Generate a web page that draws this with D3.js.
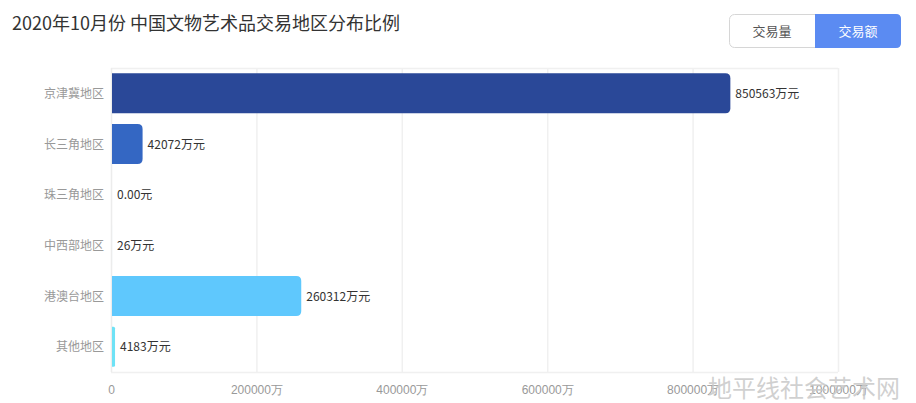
<!DOCTYPE html>
<html><head><meta charset="utf-8">
<script src="https://cdn.jsdelivr.net/npm/d3@7/dist/d3.min.js"></script>
<style>
html,body{margin:0;padding:0;background:#fff;}
svg{display:block;font-family:"Microsoft YaHei","Noto Sans CJK SC","Noto Sans",sans-serif;}
</style></head>
<body><svg id="c" width="916" height="403"></svg>
<script>
const title = "2020年10月份 中国文物艺术品交易地区分布比例";
const categories = ["京津冀地区","长三角地区","珠三角地区","中西部地区","港澳台地区","其他地区"];
const values = [850563, 42072, 0, 26, 260312, 4183];
const valueLabels = ["850563万元","42072万元","0.00元","26万元","260312万元","4183万元"];
const barColors = ["#2a4898","#3467c3","#3f8ddc","#4aa9ec","#5fc8fd","#6ee2f6"];
const xTicks = [0, 200000, 400000, 600000, 800000, 1000000];
const tickLabels = ["0","200000万","400000万","600000万","800000万","1000000万"];
const buttons = ["交易量","交易额"];
const watermark = "地平线社会艺术网";

const svg = d3.select("#c");
const L = 111, R = 838, T = 68, B = 372;
const x = d3.scaleLinear().domain([0, 1000000]).range([L, R]);
const y = d3.scaleBand().domain(categories).range([T, B]).paddingInner(0.21).paddingOuter(0.105);

// title
svg.append("text").attr("x", 12).attr("y", 30).attr("font-size", 18).attr("fill", "#333").text(title);

// toggle
const bx = 729, by = 14, bw = 172, bh = 34, half = 86;
svg.append("rect").attr("x", bx+0.5).attr("y", by+0.5).attr("width", bw-1).attr("height", bh-1)
  .attr("rx", 5).attr("fill", "#fff").attr("stroke", "#d6d6d6");
svg.append("path").attr("d", d3.path ? (()=>{const p=d3.path();const x0=bx+half,x1=bx+bw,y0=by,y1=by+bh,r=5;
  p.moveTo(x0,y0);p.lineTo(x1-r,y0);p.quadraticCurveTo(x1,y0,x1,y0+r);p.lineTo(x1,y1-r);p.quadraticCurveTo(x1,y1,x1-r,y1);p.lineTo(x0,y1);p.closePath();return p.toString();})() : "")
  .attr("fill", "#5b8bf2");
svg.append("text").attr("x", bx+half/2).attr("y", by+bh/2+4.5).attr("text-anchor","middle").attr("font-size",13).attr("fill","#555").text(buttons[0]);
svg.append("text").attr("x", bx+half+half/2).attr("y", by+bh/2+4.5).attr("text-anchor","middle").attr("font-size",13).attr("fill","#fff").text(buttons[1]);

// grid
const g = svg.append("g");
g.selectAll("line.v").data(xTicks.slice(1)).join("line")
  .attr("x1", d=>x(d)+0.5).attr("x2", d=>x(d)+0.5).attr("y1", T).attr("y2", B)
  .attr("stroke", "#f0f0f0").attr("stroke-width", 1.5);
g.append("line").attr("x1", L).attr("x2", R).attr("y1", T+0.5).attr("y2", T+0.5).attr("stroke", "#f0f0f0").attr("stroke-width",1.5);
g.append("line").attr("x1", L).attr("x2", R).attr("y1", B+0.5).attr("y2", B+0.5).attr("stroke", "#f0f0f0").attr("stroke-width",1.5);
g.append("line").attr("x1", L+0.5).attr("x2", L+0.5).attr("y1", T).attr("y2", B).attr("stroke", "#ececec").attr("stroke-width",1.5);

// bars
function barPath(x0, x1, y0, h, r) {
  const w = x1 - x0;
  if (w <= 0) return "";
  r = Math.min(r, w/2, h/2);
  const p = d3.path();
  p.moveTo(x0, y0);
  p.lineTo(x1 - r, y0);
  p.quadraticCurveTo(x1, y0, x1, y0 + r);
  p.lineTo(x1, y0 + h - r);
  p.quadraticCurveTo(x1, y0 + h, x1 - r, y0 + h);
  p.lineTo(x0, y0 + h);
  p.closePath();
  return p.toString();
}
const data = categories.map((c,i)=>({c, v: values[i], lab: valueLabels[i], col: barColors[i]}));
svg.append("g").selectAll("path").data(data).join("path")
  .attr("d", d => barPath(x(0)+1, x(d.v)+1, y(d.c), y.bandwidth(), 5))
  .attr("fill", d => d.col);
svg.append("g").selectAll("text").data(data).join("text")
  .attr("x", d => x(d.v) + 6).attr("y", d => y(d.c) + y.bandwidth()/2 + 4.5)
  .attr("font-size", 12).attr("fill", "#333").text(d => d.lab);

// y axis labels
svg.append("g").selectAll("text").data(categories).join("text")
  .attr("x", 104).attr("y", d => y(d) + y.bandwidth()/2 + 4.5)
  .attr("text-anchor", "end").attr("font-size", 12).attr("fill", "#999").text(d => d);

// x axis
const xa = svg.append("g").attr("transform", `translate(0,${B})`)
  .call(d3.axisBottom(x).tickValues(xTicks).tickSize(0).tickPadding(13).tickFormat((d,i)=>tickLabels[i]));
xa.select(".domain").remove();
xa.selectAll("text").attr("font-size", 12).attr("fill", "#999").attr("font-family", "inherit");

// watermark
svg.append("text").attr("x", 708).attr("y", 397).attr("font-size", 24).attr("fill", "#c8c8c8").attr("fill-opacity", 0.85).text(watermark);
</script></body></html>
